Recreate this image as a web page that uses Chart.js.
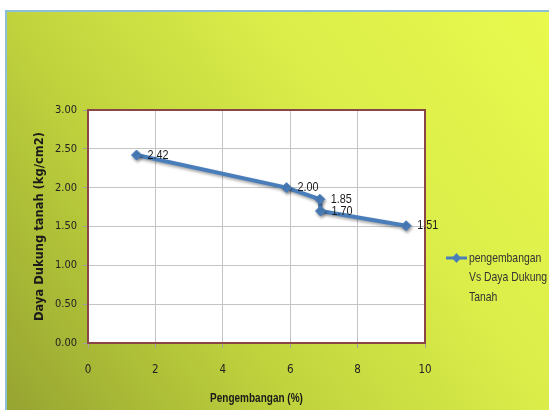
<!DOCTYPE html>
<html>
<head>
<meta charset="utf-8">
<script src="https://cdn.jsdelivr.net/npm/chart.js@4/dist/chart.umd.min.js"></script>
<style>
  html, body { margin: 0; padding: 0; background: #ffffff; }
  #wrap { width: 549px; height: 410px; }
</style>
</head>
<body>
<div id="wrap"><canvas id="c" width="549" height="410"></canvas></div>
<script>
// Swelling (%) against soil bearing capacity (kg/cm2)
const swellPct = [1.44, 5.89, 6.88, 6.90, 9.44];
const bearingCap = [2.42, 2.00, 1.85, 1.70, 1.51];
const seriesLabel = 'pengembangan Vs Daya Dukung Tanah';
const xTitle = 'Pengembangan (%)';
const yTitle = 'Daya Dukung tanah (kg/cm2)';

const SANS = '"Liberation Sans", Arial, sans-serif';
const TICK_FAMILY = '"DejaVu Sans Condensed", "Liberation Sans", sans-serif';
const LINE_BLUE = '#4a7ebb';
const SQUEEZE = 0.8;   // horizontal squeeze for the narrow label face

// Draw text squeezed horizontally, anchored at (x, y)
function narrowText(ctx, text, x, y, align) {
  ctx.save();
  ctx.translate(x, y);
  ctx.scale(SQUEEZE, 1);
  ctx.textAlign = align || 'left';
  ctx.fillText(text, 0, 0);
  ctx.restore();
}

// Gradient chart background with a thin blue frame and white plot area
const backdrop = {
  id: 'backdrop',
  beforeDraw(chart) {
    const { ctx, width, height, chartArea: a } = chart;
    ctx.save();
    ctx.fillStyle = '#ffffff';
    ctx.fillRect(0, 0, width, height);
    const g = ctx.createLinearGradient(7, height, width, 11);
    g.addColorStop(0, '#96a431');
    g.addColorStop(0.35, '#c0d33d');
    g.addColorStop(0.65, '#daed49');
    g.addColorStop(1, '#e9f94d');
    ctx.fillStyle = g;
    ctx.fillRect(7, 12, width - 7, height - 12);
    ctx.strokeStyle = '#8dbfd9';
    ctx.lineWidth = 2;
    ctx.beginPath();
    ctx.moveTo(6, height);
    ctx.lineTo(6, 11);
    ctx.lineTo(width, 11);
    ctx.stroke();
    ctx.fillStyle = '#ffffff';
    ctx.fillRect(a.left, a.top, a.right - a.left, a.bottom - a.top);
    ctx.restore();
  },
  beforeDatasetsDraw(chart) {
    const { ctx, chartArea: a } = chart;
    ctx.save();
    ctx.strokeStyle = '#8a4646';
    ctx.lineWidth = 2;
    ctx.strokeRect(a.left, a.top, a.right - a.left, a.bottom - a.top);
    ctx.restore();
  }
};

// Axis titles: bold narrow x title, bold vertical y title
const axisTitles = {
  id: 'axisTitles',
  afterDraw(chart) {
    const { ctx, chartArea: a } = chart;
    ctx.save();
    ctx.fillStyle = '#1a1a1a';
    ctx.textBaseline = 'middle';
    ctx.font = 'bold 12.5px ' + SANS;
    narrowText(ctx, xTitle, (a.left + a.right) / 2, 399, 'center');
    ctx.translate(40, (a.top + a.bottom) / 2);
    ctx.rotate(-Math.PI / 2);
    ctx.font = 'bold 11.5px "DejaVu Sans", sans-serif';
    ctx.textAlign = 'center';
    ctx.fillText(yTitle, 0, 0);
    ctx.restore();
  }
};

// Soft drop shadow under the series line
const lineShadow = {
  id: 'lineShadow',
  beforeDatasetDraw(chart) {
    const ctx = chart.ctx;
    ctx.save();
    ctx.shadowColor = 'rgba(0,0,0,0.35)';
    ctx.shadowBlur = 3;
    ctx.shadowOffsetX = 1;
    ctx.shadowOffsetY = 2;
  },
  afterDatasetDraw(chart) {
    chart.ctx.restore();
  }
};

// Value labels to the right of each point
const valueLabels = {
  id: 'valueLabels',
  afterDatasetsDraw(chart) {
    const { ctx } = chart;
    const meta = chart.getDatasetMeta(0);
    ctx.save();
    ctx.font = '13.5px ' + SANS;
    ctx.fillStyle = '#1a1a1a';
    ctx.textBaseline = 'middle';
    meta.data.forEach((pt, i) => {
      narrowText(ctx, bearingCap[i].toFixed(2), pt.x + 11, pt.y, 'left');
    });
    ctx.restore();
  }
};

// Legend on the right, with the label wrapped over several lines
const sideLegend = {
  id: 'sideLegend',
  afterDraw(chart) {
    const { ctx, width, chartArea: a } = chart;
    const ds = chart.data.datasets[0];
    const x0 = a.right + 21;
    const y0 = 258;
    const tx = x0 + 23;
    const maxW = width - tx + 1;
    ctx.save();
    // marker: short line with a diamond
    ctx.strokeStyle = ds.borderColor;
    ctx.lineWidth = 3;
    ctx.beginPath();
    ctx.moveTo(x0, y0);
    ctx.lineTo(x0 + 21, y0);
    ctx.stroke();
    ctx.fillStyle = ds.borderColor;
    ctx.beginPath();
    ctx.moveTo(x0 + 10.5, y0 - 5);
    ctx.lineTo(x0 + 15, y0);
    ctx.lineTo(x0 + 10.5, y0 + 5);
    ctx.lineTo(x0 + 6, y0);
    ctx.closePath();
    ctx.fill();
    // wrapped text
    ctx.font = '13px ' + SANS;
    ctx.fillStyle = '#333333';
    ctx.textBaseline = 'middle';
    const words = ds.label.split(' ');
    const lines = [];
    let cur = '';
    words.forEach(w => {
      const test = cur ? cur + ' ' + w : w;
      if (cur && ctx.measureText(test).width * SQUEEZE > maxW) { lines.push(cur); cur = w; }
      else cur = test;
    });
    if (cur) lines.push(cur);
    lines.forEach((ln, i) => narrowText(ctx, ln, tx, y0 + i * 19.5, 'left'));
    ctx.restore();
  }
};

new Chart(document.getElementById('c'), {
  type: 'scatter',
  data: {
    datasets: [{
      label: seriesLabel,
      data: swellPct.map((x, i) => ({ x: x, y: bearingCap[i] })),
      showLine: true,
      borderColor: LINE_BLUE,
      backgroundColor: LINE_BLUE,
      borderWidth: 4,
      pointStyle: 'rectRot',
      pointRadius: 5,
      pointBorderWidth: 1,
      pointBorderColor: LINE_BLUE,
      pointBackgroundColor: LINE_BLUE,
      tension: 0
    }]
  },
  options: {
    responsive: false,
    animation: false,
    devicePixelRatio: 1,
    layout: { padding: { left: 7, right: 124, top: 110, bottom: 0 } },
    plugins: {
      legend: { display: false },
      tooltip: { enabled: false }
    },
    scales: {
      x: {
        type: 'linear',
        min: 0, max: 10,
        afterFit(s) { s.height = 67; },
        ticks: {
          stepSize: 2,
          padding: 15,
          color: '#222222',
          font: { family: TICK_FAMILY, size: 11.5 }
        },
        grid: { color: '#c4c4c4', lineWidth: 1, tickLength: 5, tickColor: '#a0a0a0' },
        border: { display: false },
        title: { display: false }
      },
      y: {
        min: 0, max: 3,
        afterFit(s) { s.width = 81; },
        ticks: {
          stepSize: 0.5,
          padding: 6,
          color: '#222222',
          font: { family: TICK_FAMILY, size: 11 },
          callback: v => Number(v).toFixed(2)
        },
        grid: { color: '#c4c4c4', lineWidth: 1, tickLength: 5, tickColor: '#a0a0a0' },
        border: { display: false },
        title: { display: false }
      }
    }
  },
  plugins: [backdrop, lineShadow, valueLabels, sideLegend, axisTitles]
});
</script>
</body>
</html>
